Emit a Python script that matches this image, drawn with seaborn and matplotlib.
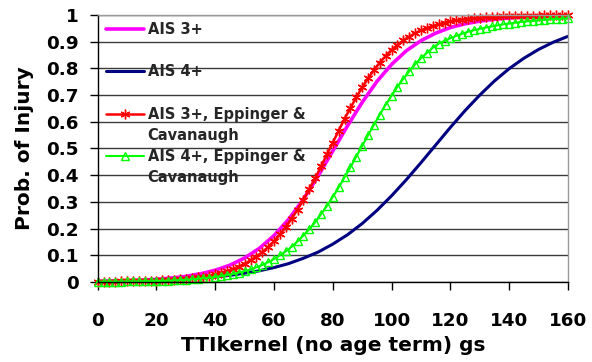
import numpy as np
import pandas as pd
import seaborn as sns
import matplotlib
matplotlib.use("Agg")
import matplotlib.pyplot as plt
from matplotlib.lines import Line2D

# TTIkernel values (gs) for the marker series and the plain-line series
tti_fine = list(range(0, 161, 2))
tti_coarse = list(range(0, 161, 5))

# Probability of injury, AIS 3+ / AIS 4+ (Eppinger & Cavanaugh), every 2 gs
p_ais3_ec = [0.001, 0.001, 0.001, 0.001, 0.002, 0.002, 0.002, 0.003, 0.003, 0.004,
             0.005, 0.006, 0.007, 0.008, 0.010, 0.012, 0.014, 0.017, 0.020, 0.024,
             0.029, 0.035, 0.041, 0.049, 0.058, 0.068, 0.081, 0.095, 0.112, 0.131,
             0.153, 0.178, 0.206, 0.237, 0.271, 0.308, 0.348, 0.389, 0.433, 0.478,
             0.522, 0.567, 0.611, 0.652, 0.692, 0.729, 0.763, 0.794, 0.822, 0.847,
             0.869, 0.888, 0.905, 0.919, 0.932, 0.942, 0.951, 0.959, 0.965, 0.971,
             0.976, 0.980, 0.983, 0.986, 0.988, 0.990, 0.992, 0.993, 0.994, 0.995,
             0.996, 0.997, 0.997, 0.998, 0.998, 0.998, 0.999, 0.999, 0.999, 0.999,
             0.999]
p_ais4_ec = [0.001, 0.001, 0.001, 0.001, 0.001, 0.002, 0.002, 0.002, 0.003, 0.003,
             0.004, 0.004, 0.005, 0.006, 0.007, 0.008, 0.010, 0.012, 0.014, 0.016,
             0.019, 0.022, 0.026, 0.030, 0.035, 0.041, 0.047, 0.055, 0.064, 0.074,
             0.086, 0.100, 0.115, 0.132, 0.152, 0.174, 0.198, 0.224, 0.254, 0.285,
             0.319, 0.354, 0.392, 0.430, 0.470, 0.510, 0.550, 0.589, 0.627, 0.664,
             0.698, 0.731, 0.761, 0.789, 0.815, 0.838, 0.858, 0.877, 0.893, 0.903,
             0.913, 0.922, 0.930, 0.937, 0.943, 0.948, 0.953, 0.957, 0.961, 0.965,
             0.968, 0.971, 0.974, 0.976, 0.978, 0.980, 0.982, 0.984, 0.985, 0.986,
             0.988]

# Probability of injury, AIS 3+ / AIS 4+, every 5 gs
p_ais3 = [0.002, 0.003, 0.005, 0.007, 0.010, 0.015, 0.021, 0.031, 0.044, 0.063,
          0.090, 0.126, 0.174, 0.235, 0.310, 0.397, 0.491, 0.585, 0.673, 0.751,
          0.815, 0.866, 0.904, 0.932, 0.953, 0.967, 0.977, 0.984, 0.989, 0.993,
          0.995, 0.997, 0.998]
p_ais4 = [0.002, 0.003, 0.004, 0.005, 0.007, 0.009, 0.012, 0.015, 0.019, 0.025,
          0.033, 0.042, 0.054, 0.069, 0.089, 0.112, 0.142, 0.177, 0.219, 0.268,
          0.323, 0.383, 0.447, 0.513, 0.579, 0.642, 0.700, 0.753, 0.799, 0.838,
          0.871, 0.898, 0.920]

x_ticks = [0, 20, 40, 60, 80, 100, 120, 140, 160]
y_ticks = [0, 0.1, 0.2, 0.3, 0.4, 0.5, 0.6, 0.7, 0.8, 0.9, 1.0]
y_tick_labels = ["0", "0.1", "0.2", "0.3", "0.4", "0.5", "0.6", "0.7", "0.8", "0.9", "1"]

sns.set_theme(style="white")
plt.rcParams['font.family'] = ['DejaVu Sans']
plt.rcParams['font.weight'] = 'bold'

MAGENTA, NAVY, RED, GREEN = '#FF00FF', '#000080', '#FF0000', '#00FF00'
STAR = (6, 2, 0)

fig = plt.figure(figsize=(5.92, 3.62), dpi=100)
ax = fig.add_axes([0.165, 0.221, 0.7944, 0.7376])

sns.lineplot(x=tti_coarse, y=p_ais3, color=MAGENTA, lw=2.6, ax=ax)
sns.lineplot(x=tti_coarse, y=p_ais4, color=NAVY, lw=2.2, ax=ax)
sns.lineplot(x=tti_fine, y=p_ais3_ec, color=RED, lw=1.8, marker=STAR, ms=7,
             mec=RED, mew=1.0, ax=ax, clip_on=False)
sns.lineplot(x=tti_fine, y=p_ais4_ec, color=GREEN, lw=1.5, marker='^', ms=6,
             mfc='none', mec=GREEN, mew=1.0, ax=ax, clip_on=False)

ax.set_xlim(0, 160)
ax.set_ylim(0, 1)
ax.set_xticks(x_ticks)
ax.set_xticklabels([str(t) for t in x_ticks])
ax.set_yticks(y_ticks)
ax.set_yticklabels(y_tick_labels)
ax.yaxis.grid(True, color='#3a3a3a', lw=1)
ax.xaxis.grid(False)
ax.set_axisbelow(True)

for side in ('left', 'bottom'):
    ax.spines[side].set_color('black')
    ax.spines[side].set_linewidth(1)
for side in ('top', 'right'):
    ax.spines[side].set_color('#9a9a9a')
    ax.spines[side].set_linewidth(1)

ax.tick_params(axis='both', which='major', direction='out', length=5.8, width=1,
               color='black', labelsize=13.2, labelcolor='black')
ax.tick_params(axis='x', which='major', pad=16, bottom=True)
ax.tick_params(axis='y', which='major', pad=8, left=True)

ax.set_xlabel('TTIkernel (no age term) gs', fontsize=14.5, fontweight='bold',
              color='black', labelpad=4)
ax.set_ylabel('Prob. of Injury', fontsize=14.5, fontweight='bold',
              color='black', labelpad=8.5)

blank = Line2D([], [], lw=0, alpha=0)
handles = [
    Line2D([], [], color=MAGENTA, lw=2.6),
    blank,
    Line2D([], [], color=NAVY, lw=2.2),
    blank,
    Line2D([], [], color=RED, lw=1.8, marker=STAR, ms=7, mec=RED),
    blank,
    Line2D([], [], color=GREEN, lw=1.5, marker='^', ms=6, mfc='none', mec=GREEN),
    blank,
]
labels = ["AIS 3+", " ", "AIS 4+", " ", "AIS 3+, Eppinger &", "Cavanaugh",
          "AIS 4+, Eppinger &", "Cavanaugh"]
ax.legend(handles, labels, loc='upper left', bbox_to_anchor=(0.0176, 0.973),
          frameon=False, borderpad=0, borderaxespad=0, handlelength=2.6,
          handletextpad=0.25, labelspacing=0.42, numpoints=1,
          prop={'size': 10.5, 'weight': 'bold'})

fig.savefig("out.png", dpi=100)
